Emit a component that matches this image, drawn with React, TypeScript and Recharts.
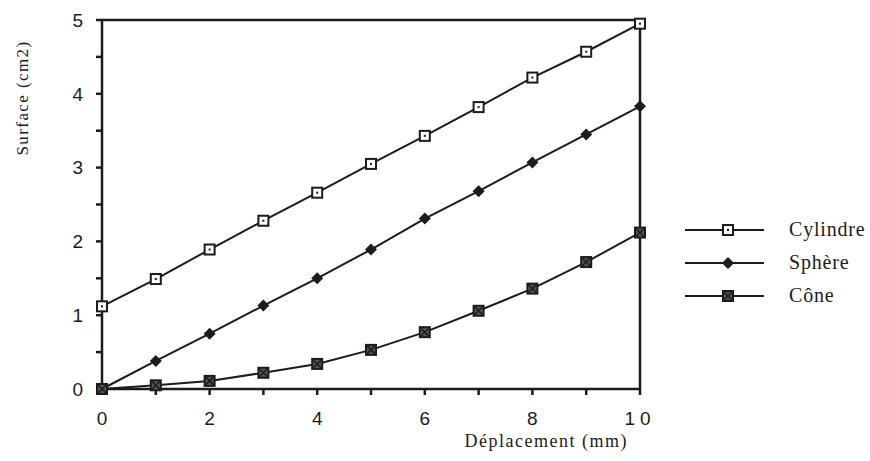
import { Line, LineChart, ReferenceLine, XAxis, YAxis, Label } from "recharts";

// déplacement (mm)
const deplacement = [0, 1, 2, 3, 4, 5, 6, 7, 8, 9, 10];
// surface (cm2)
const cylindre = [1.12, 1.49, 1.89, 2.28, 2.66, 3.05, 3.43, 3.82, 4.22, 4.57, 4.95];
const sphere = [0, 0.38, 0.75, 1.13, 1.5, 1.89, 2.31, 2.68, 3.07, 3.45, 3.83];
const cone = [0, 0.05, 0.11, 0.22, 0.34, 0.53, 0.77, 1.06, 1.36, 1.72, 2.12];

const xTicks = [0, 1, 2, 3, 4, 5, 6, 7, 8, 9, 10];
const yTicks = [0, 0.5, 1, 1.5, 2, 2.5, 3, 3.5, 4, 4.5, 5];

const data = deplacement.map((d, i) => ({
  d,
  cylindre: cylindre[i],
  sphere: sphere[i],
  cone: cone[i],
}));

const INK = "#1c1c1c";
const SERIF = "'Liberation Serif', 'DejaVu Serif', serif";
const SANS = "'Liberation Sans', Arial, sans-serif";

// marqueurs
function SquareDot({ cx, cy }: any) {
  if (cx == null || cy == null) return null;
  return (
    <g>
      <rect x={cx - 5} y={cy - 5} width={10} height={10} fill="#fff" stroke={INK} strokeWidth={2} />
      <rect x={cx - 1} y={cy - 1} width={2} height={2} fill={INK} />
    </g>
  );
}

function DiamondDot({ cx, cy }: any) {
  if (cx == null || cy == null) return null;
  return <path d={`M${cx},${cy - 6} L${cx + 6},${cy} L${cx},${cy + 6} L${cx - 6},${cy} Z`} fill={INK} />;
}

function CrossSquareDot({ cx, cy }: any) {
  if (cx == null || cy == null) return null;
  return (
    <g>
      <rect x={cx - 5} y={cy - 5} width={10} height={10} fill="#555" stroke={INK} strokeWidth={2} />
      <path d={`M${cx - 4},${cy - 4} L${cx + 4},${cy + 4} M${cx + 4},${cy - 4} L${cx - 4},${cy + 4}`} stroke={INK} strokeWidth={1.5} />
    </g>
  );
}

// "1 0" espacé comme sur l'original
function XTick({ x, y, payload }: any) {
  const v = payload?.value;
  if (v == null || v % 2 !== 0) return null;
  return (
    <text x={x} y={y} dy={22} textAnchor="middle" fill={INK} fontFamily={SANS} fontSize={19} letterSpacing={v >= 10 ? 5 : 0}>
      {String(v)}
    </text>
  );
}

const legendItems = [
  { name: "Cylindre", Dot: SquareDot },
  { name: "Sphère", Dot: DiamondDot },
  { name: "Cône", Dot: CrossSquareDot },
];

function LegendBox() {
  return (
    <div style={{ position: "absolute", left: 685, top: 213 }}>
      {legendItems.map(({ name, Dot }) => (
        <div key={name} style={{ display: "flex", alignItems: "center", height: 33 }}>
          <svg width={80} height={16}>
            <line x1={0} y1={8} x2={79} y2={8} stroke={INK} strokeWidth={2} />
            <Dot cx={43} cy={8} />
          </svg>
          <span style={{ marginLeft: 24, fontFamily: SERIF, fontSize: 20, letterSpacing: 0.8, color: INK }}>{name}</span>
        </div>
      ))}
    </div>
  );
}

function YTitle() {
  return (
    <svg width={50} height={200} style={{ position: "absolute", left: 0, top: 0 }}>
      <text
        x={28}
        y={98}
        transform="rotate(-90 28 98)"
        textAnchor="middle"
        fill={INK}
        fontFamily={SERIF}
        fontSize={17}
        letterSpacing={1.4}
      >
        Surface (cm2)
      </text>
    </svg>
  );
}

export default function App() {
  return (
    <div style={{ position: "absolute", left: 0, top: 0, width: 870, height: 461, background: "#fff" }}>
      <LineChart
        width={870}
        height={461}
        data={data}
        margin={{ top: 20, right: 230, left: 101, bottom: 71 }}
      >
        <XAxis
          dataKey="d"
          type="number"
          domain={[0, 10]}
          ticks={xTicks}
          interval={0}
          stroke={INK}
          strokeWidth={2.5}
          tickSize={6}
          tick={<XTick />}
          tickMargin={8}
          height={1}
        >
          <Label
            value="Déplacement (mm)"
            position="insideBottomRight"
            offset={0}
            dx={-12}
            dy={57}
            style={{ fill: INK, fontFamily: SERIF, fontSize: 18, letterSpacing: 1.5 }}
          />
        </XAxis>
        <YAxis
          type="number"
          domain={[0, 5]}
          ticks={yTicks}
          interval={0}
          tickFormatter={(v: number) => (Number.isInteger(v) ? String(v) : "")}
          stroke={INK}
          strokeWidth={2.5}
          tickSize={6}
          tick={{ fill: INK, fontFamily: SANS, fontSize: 19 }}
          tickMargin={13}
          width={1}
        />
        <ReferenceLine y={5} stroke={INK} strokeWidth={2.5} />
        <ReferenceLine x={10} stroke={INK} strokeWidth={2.5} />
        <Line
          dataKey="cylindre"
          name="Cylindre"
          stroke={INK}
          strokeWidth={2}
          dot={<SquareDot />}
          activeDot={false}
          isAnimationActive={false}
        />
        <Line
          dataKey="sphere"
          name="Sphère"
          stroke={INK}
          strokeWidth={2}
          dot={<DiamondDot />}
          activeDot={false}
          isAnimationActive={false}
        />
        <Line
          dataKey="cone"
          name="Cône"
          stroke={INK}
          strokeWidth={2}
          dot={<CrossSquareDot />}
          activeDot={false}
          isAnimationActive={false}
        />
      </LineChart>
      <YTitle />
      <LegendBox />
    </div>
  );
}
